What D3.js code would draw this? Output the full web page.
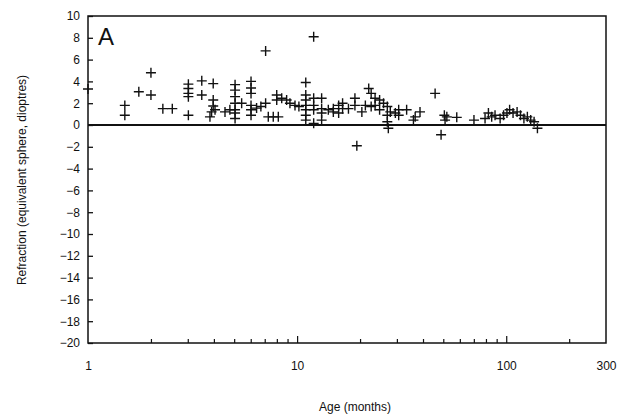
<!DOCTYPE html>
<html>
<head>
<meta charset="utf-8">
<script src="https://cdn.jsdelivr.net/npm/d3@7"></script>
<style>
  body { margin: 0; background: #fff; }
  svg text { font-family: "Liberation Sans", Arial, sans-serif; fill: #111; }
</style>
</head>
<body>
<svg id="chart" width="621" height="414"></svg>
<script>
// age (months) and refraction (dioptres)
var ages = [1,
    1.5, 1.5, 1.75, 2.0, 2.0, 2.28, 2.53,
    3.02, 3.02, 3.02, 3.02, 3.02, 3.5, 3.5, 3.83, 3.9,
    3.97, 3.97, 3.97, 4.05, 4.52, 4.77,
    5.05, 5.05, 5.05, 5.05, 5.05, 5.05, 5.05, 5.43,
    6.02, 6.02, 6.02, 6.02, 6.02, 6.02,
    6.4, 6.71, 7.07, 7.07, 7.28, 7.69, 7.99, 7.99, 8.13,
    8.44, 8.91, 9.24, 9.77, 10.2,
    11, 11, 11, 11, 11, 11, 11,
    12, 12, 12, 12, 12,
    13.1, 13.1, 13.1, 13.1, 14.1, 14.9, 14.9,
    15.8, 15.8, 16.5, 16.5, 17.6, 18.9, 18.9, 19.3,
    20.4, 21.2, 22.0, 22.6, 22.6, 23.6, 23.6, 24.8, 24.8, 25.9,
    27.0, 27.0, 27.0, 27.3, 27.9, 29.5, 30.6, 30.6,
    33.4, 36.0, 36.7, 38.7,
    45.7, 48.8, 50.6, 51, 52, 58,
    70.1, 79.2, 82.2, 85.2, 88.4, 93.5, 97.1, 100.8, 103.8, 107.8,
    112.7, 117, 121.5, 126.2, 130.9, 135.9, 141];

var refraction = [3.3,
    1.8, 0.9, 3.05, 4.8, 2.75, 1.5, 1.5,
    3.75, 3.35, 2.9, 2.6, 0.9, 4.05, 2.75, 0.75, 1.2,
    3.8, 2.3, 1.75, 1.4, 1.2, 1.4,
    3.7, 3.2, 2.6, 2.0, 1.4, 1.1, 0.6, 2.0,
    4.0, 3.4, 2.9, 1.8, 1.4, 0.9,
    1.55, 1.7, 2.0, 6.8, 0.75, 0.75, 2.75, 2.3, 0.75,
    2.45, 2.3, 2.0, 1.8, 1.7,
    3.9, 2.75, 2.3, 1.8, 1.4, 0.9, 0.45,
    8.1, 2.45, 1.8, 1.4, 0.15,
    2.45, 1.5, 1.1, 0.45, 1.4, 1.5, 1.2,
    1.8, 1.1, 2.0, 1.5, 1.5, 2.45, 1.8, -1.9,
    1.2, 1.8, 3.35, 2.9, 1.7, 2.45, 1.8, 2.3, 1.4, 2.0,
    1.7, 0.9, 0.3, -0.3, 1.2, 1.1, 1.4, 0.9,
    1.4, 0.45, 0.75, 1.2,
    2.9, -0.9, 0.9, 0.45, 0.75, 0.7,
    0.45, 0.6, 1.1, 0.75, 0.9, 0.6, 0.9, 1.1, 1.4, 1.1,
    1.2, 0.9, 0.6, 0.75, 0.45, 0.3, -0.3];

var xLabelTicks = [1, 10, 100, 300];
var xMinorTicks = [2, 3, 4, 5, 6, 7, 8, 9, 20, 30, 40, 50, 60, 70, 80, 90, 200];
var xMajorTicks = [10, 100];
var yTicks = d3.range(-20, 11, 2);

var svg = d3.select("#chart");
var plotLeft = 88, plotRight = 606, plotTop = 16, plotBottom = 343;

var x = d3.scaleLog().domain([1, 300]).range([plotLeft, plotRight]);
var y = d3.scaleLinear().domain([-20, 10]).range([plotBottom, plotTop]);

var points = ages.map(function (a, i) { return {age: a, r: refraction[i]}; });

// frame
svg.append("rect")
    .attr("x", plotLeft).attr("y", plotTop)
    .attr("width", plotRight - plotLeft).attr("height", plotBottom - plotTop)
    .attr("fill", "none").attr("stroke", "#111").attr("stroke-width", 1.5);

// y axis, ticks pointing inwards
var yAxis = svg.append("g")
    .attr("transform", "translate(" + plotLeft + ",0)")
    .call(d3.axisLeft(y).tickValues(yTicks).tickSize(-5).tickPadding(8).tickFormat(d3.format("d")));
yAxis.select(".domain").remove();
yAxis.selectAll("line").attr("stroke", "#111").attr("stroke-width", 1.3);
yAxis.selectAll("text").attr("font-size", 12).attr("fill", "#111");

// x axis: minor ticks, major ticks, labels
var xMinor = svg.append("g")
    .attr("transform", "translate(0," + plotBottom + ")")
    .call(d3.axisBottom(x).tickValues(xMinorTicks).tickSize(-4).tickFormat(""));
var xMajor = svg.append("g")
    .attr("transform", "translate(0," + plotBottom + ")")
    .call(d3.axisBottom(x).tickValues(xMajorTicks).tickSize(-7).tickFormat(""));
var xLab = svg.append("g")
    .attr("transform", "translate(0," + plotBottom + ")")
    .call(d3.axisBottom(x).tickValues(xLabelTicks).tickSize(0).tickPadding(18).tickFormat(d3.format("d")));
[xMinor, xMajor, xLab].forEach(function (g) {
    g.select(".domain").remove();
    g.selectAll("line").attr("stroke", "#111").attr("stroke-width", 1.2);
});
xLab.selectAll("text").attr("font-size", 12).attr("fill", "#111");

// zero line
svg.append("line")
    .attr("x1", plotLeft).attr("x2", plotRight)
    .attr("y1", y(0)).attr("y2", y(0))
    .attr("stroke", "#111").attr("stroke-width", 2);

// cross markers
var arm = 5;
svg.append("g").selectAll("path")
    .data(points)
    .enter().append("path")
    .attr("d", function (d) {
        var cx = x(d.age), cy = y(d.r);
        return "M" + (cx - arm) + "," + cy + "H" + (cx + arm) +
               "M" + cx + "," + (cy - arm) + "V" + (cy + arm);
    })
    .attr("stroke", "#111").attr("stroke-width", 1.4).attr("fill", "none");

// panel letter
svg.append("text")
    .attr("x", 98).attr("y", 45)
    .attr("font-size", 24)
    .text("A");

// axis titles
svg.append("text")
    .attr("x", (plotLeft + plotRight) / 2 + 8).attr("y", 411)
    .attr("text-anchor", "middle").attr("font-size", 12)
    .text("Age (months)");

svg.append("text")
    .attr("transform", "translate(26," + 180 + ") rotate(-90)")
    .attr("text-anchor", "middle").attr("font-size", 12)
    .text("Refraction (equivalent sphere, dioptres)");
</script>
</body>
</html>
